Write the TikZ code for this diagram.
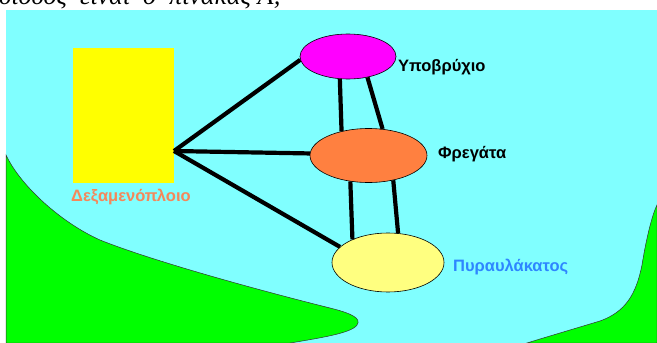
\documentclass[tikz,border=0pt]{standalone}
\usepackage{fontspec}
\setmainfont{Liberation Serif}
\setsansfont{Liberation Sans}
\usetikzlibrary{shapes.geometric}
\definecolor{sea}{HTML}{80FFFF}
\definecolor{land}{HTML}{00FF00}
\definecolor{tankc}{HTML}{FFFF00}
\definecolor{subc}{HTML}{FF00FF}
\definecolor{frigc}{HTML}{FF8040}
\definecolor{boatc}{HTML}{FFFF80}
\definecolor{lbltank}{HTML}{F5875A}
\definecolor{lblboat}{HTML}{2E86FF}
\tikzset{
  ship/.style={ellipse, draw=black, line width=0.6pt, inner sep=0pt},
  link/.style={line width=4.2pt, black},
  lbl/.style={font=\sffamily\bfseries\fontsize{16.5}{18}\selectfont, inner sep=0pt, anchor=west},
  shore/.style={fill=land, draw=black!80, line width=0.5pt}
}
\begin{document}
\begin{tikzpicture}[x=1pt,y=-1pt]
\useasboundingbox (0,0) rectangle (657,343);
\fill[white] (0,0) rectangle (657,343);
% partial caption line at top
\begin{scope}
\clip (0,0) rectangle (657,10);
\node[inner sep=0pt, anchor=base west, font=\itshape\fontsize{26}{28}\selectfont] (cap) at (-1,4.5) {δίοδος \ είναι \ ο \ πίνακας Α;};
\end{scope}
% sea
\fill[sea] (6,10) rectangle (657,343);
% land left
\path[shore] (6,155) .. controls (20,185) and (60,222) .. (100,240)
  .. controls (150,260) and (250,288) .. (330,308)
  .. controls (350,313) and (362,318) .. (357,325)
  .. controls (352,333) and (320,338) .. (290,343)
  -- (6,343) -- cycle;
% land right
\path[shore] (527,343) -- (540,339) -- (600,321)
  .. controls (625,312) and (636,295) .. (642,265)
  .. controls (646,240) and (652,215) .. (657,205)
  -- (657,343) -- cycle;
% tanker
\node[fill=tankc, minimum width=101pt, minimum height=135pt, inner sep=0pt, anchor=north west] (tank) at (73,48) {};
\coordinate (hub) at (174,151);
\node[lbl, text=lbltank] (tanklbl) at (71,197) {Δεξαμενόπλοιο};
% ships
\node[ship, fill=subc, minimum width=96pt, minimum height=45pt] (sub) at (348,56.5) {};
\node[ship, fill=frigc, minimum width=117pt, minimum height=54pt] (frig) at (368.5,155.5) {};
\node[ship, fill=boatc, minimum width=112pt, minimum height=59pt] (boat) at (388,262.5) {};
\node[lbl] (sublbl) at (398,67) {Υποβρύχιο};
\node[lbl] (friglbl) at (438,154) {Φρεγάτα};
\node[lbl, text=lblboat] (boatlbl) at (453,267) {Πυραυλάκατος};
% links
\draw[link] (hub) -- (sub.184);
\draw[link] (hub) -- (frig.178);
\draw[link] (hub) -- (boat.162);
\draw[link] (sub.250) -- (frig.138);
\draw[link] (sub.313) -- (frig.62);
\draw[link] (frig.235) -- (boat.147);
\draw[link] (frig.315) -- (boat.71);
\end{tikzpicture}
\end{document}
